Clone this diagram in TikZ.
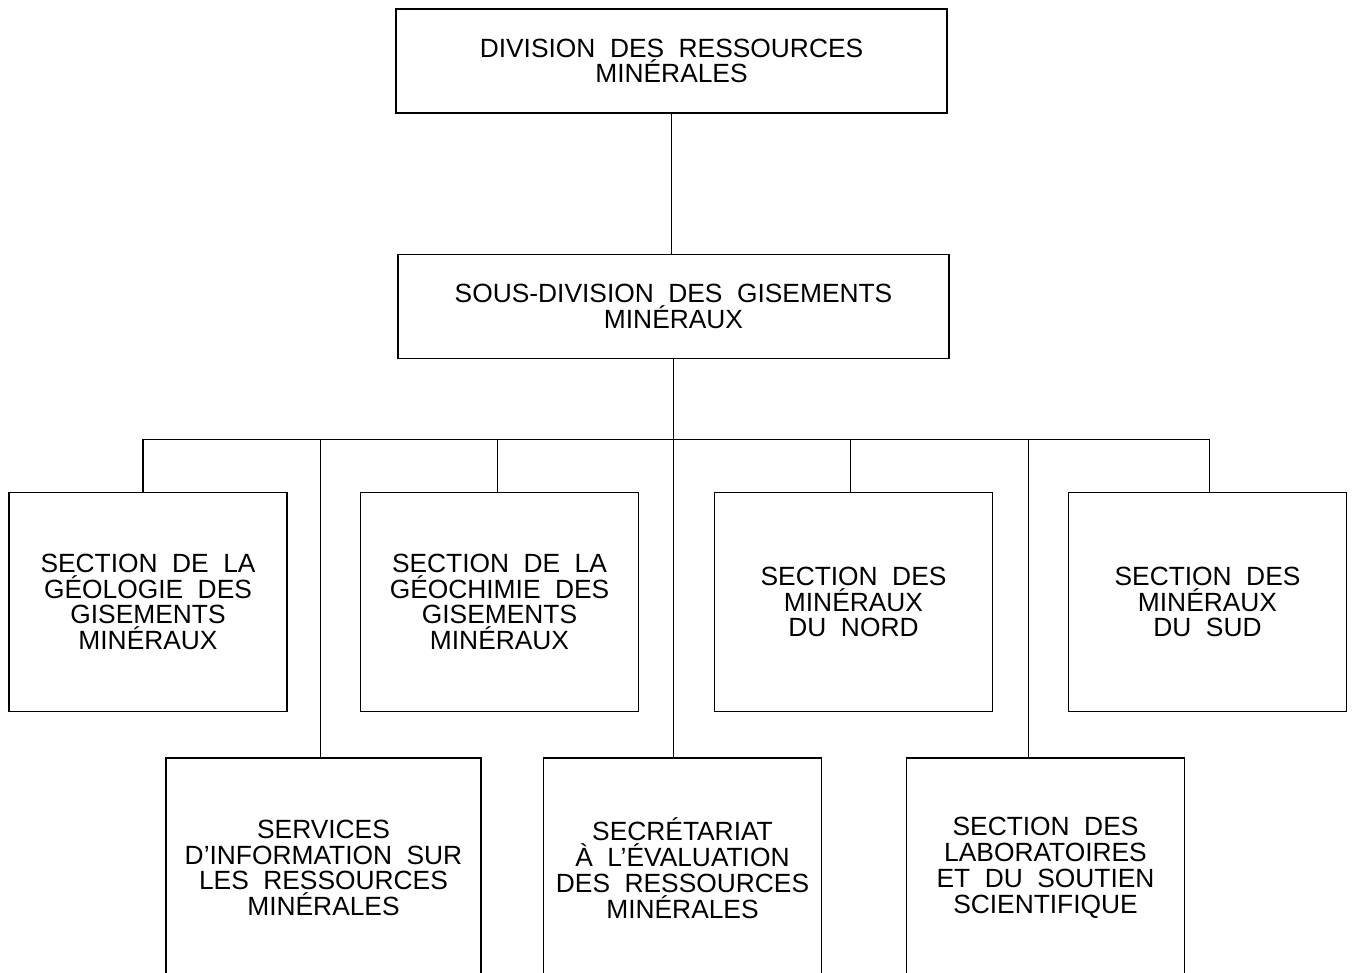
\documentclass[tikz,border=0pt]{standalone}
\usepackage{fontspec}
\setmainfont{Liberation Sans}
\newcommand{\boxfont}{\fontsize{15}{14.7}\selectfont\spaceskip=0.55em\relax}

\begin{document}
\begin{tikzpicture}[x=0.02cm,y=-0.02cm]
  \tikzstyle{box}=[draw,line width=1pt,align=center,inner sep=0pt,font=\boxfont]
  \tikzstyle{divbox}=[box,minimum width=11.02cm,minimum height=2.08cm]
  \tikzstyle{secbox}=[box,minimum width=5.56cm,minimum height=4.38cm]
  \tikzstyle{link}=[line width=0.8pt]
  \useasboundingbox (0,0) rectangle (1352,973);
  \node[divbox] (div) at (671.5,61) {DIVISION DES RESSOURCES\\MINÉRALES};
  \node[divbox] (sousdiv) at (673.5,306.5) {SOUS-DIVISION DES GISEMENTS\\MINÉRAUX};
  \node[secbox] (geol) at (148,602) {SECTION DE LA\\GÉOLOGIE DES\\GISEMENTS\\MINÉRAUX};
  \node[secbox] (geoch) at (499.5,602) {SECTION DE LA\\GÉOCHIMIE DES\\GISEMENTS\\MINÉRAUX};
  \node[secbox] (nord) at (853.5,602) {SECTION DES\\MINÉRAUX\\DU NORD};
  \node[secbox] (sud) at (1207.5,602) {SECTION DES\\MINÉRAUX\\DU SUD};
  \node[secbox,minimum width=6.3cm,minimum height=4.4cm] (info) at (323.5,868) {SERVICES\\D’INFORMATION SUR\\LES RESSOURCES\\MINÉRALES};
  \node[secbox,minimum height=4.4cm] (secr) at (682.5,868) {SECRÉTARIAT\\À L’ÉVALUATION\\DES RESSOURCES\\MINÉRALES};
  \node[secbox,minimum height=4.4cm] (labo) at (1045.5,868) {SECTION DES\\LABORATOIRES\\ET DU SOUTIEN\\SCIENTIFIQUE};
  \coordinate (bar) at ([yshift=-1.6cm]sousdiv.south);
  \draw[link] (div.south) -- (div.south |- sousdiv.north);
  \draw[link] (sousdiv.south) -- (sousdiv.south |- secr.north);
  \foreach \n/\s in {geol/-5,info/-3,geoch/-2,nord/-3,sud/2,labo/-17}
    \draw[link] ([xshift=\s*0.02cm]\n.north) |- (bar);
\end{tikzpicture}
\end{document}
